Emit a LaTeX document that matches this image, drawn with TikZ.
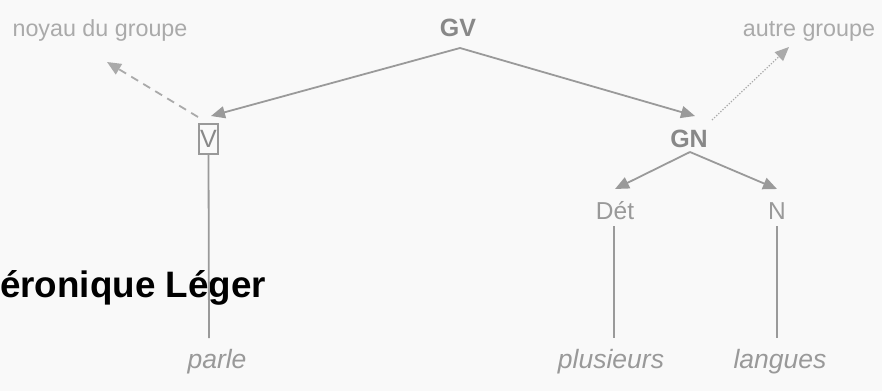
\documentclass[tikz,border=0pt]{standalone}
\usepackage{fontspec}
\setmainfont{Liberation Sans}
\usetikzlibrary{arrows.meta}
\definecolor{bgc}{HTML}{F9F9F9}
\definecolor{labc}{HTML}{AAAAAA}
\definecolor{catc}{HTML}{888888}
\definecolor{softc}{HTML}{999999}
\definecolor{linec}{HTML}{9A9A9A}
\tikzset{
  lbl/.style={text=labc, inner sep=0pt, anchor=base, font=\fontsize{23.3}{28}\selectfont},
  bcat/.style={text=catc, inner sep=0pt, anchor=base, font=\fontsize{25}{30}\selectfont\bfseries},
  scat/.style={text=softc, inner sep=0pt, anchor=base, font=\fontsize{24.5}{29}\selectfont},
  word/.style={text=softc, inner sep=0pt, anchor=base, font=\fontsize{26.5}{31}\selectfont\itshape},
  vbox/.style={draw=softc, line width=1.6pt, text=catc, minimum width=19pt, minimum height=30pt, inner sep=0pt, font=\fontsize{25}{30}\selectfont},
  author/.style={text=black, inner sep=0pt, anchor=base west, font=\fontsize{36.8}{44}\selectfont\bfseries},
  arr/.style={draw=linec, line width=1.8pt, -{Triangle[length=14pt,width=12pt]}},
  dasharr/.style={draw=labc, line width=1.8pt, dash pattern=on 8pt off 6pt, -{Triangle[length=14pt,width=12pt]}},
  dotarr/.style={draw=labc, line width=1.2pt, dash pattern=on 1.3pt off 1.6pt, -{Triangle[length=14pt,width=12pt]}},
  stem/.style={draw=linec, line width=1.8pt}
}
\begin{document}
\begin{tikzpicture}[x=1pt, y=-1pt]
\fill[bgc] (0,0) rectangle (882,391);
\useasboundingbox (0,0) rectangle (882,391);

% labels and categories (placed by baseline)
\node[lbl] (noyau) at (100,36) {noyau du groupe};
\node[bcat] (gv) at (458,36) {GV};
\node[lbl] (autre) at (809,36) {autre groupe};
\node[vbox] (v) at (208.5,139) {V};
\node[bcat] (gn) at (689,147) {GN};
\node[scat] (det) at (615,219) {Dét};
\node[scat] (n) at (777,219) {N};

% words
\node[word] (parle) at (217,368) {parle};
\node[word] (plusieurs) at (611,368) {plusieurs};
\node[word] (langues) at (780,368) {langues};

% author name
\node[author] (auteur) at (0,297) {éronique Léger};

% attachment points of the branches
\coordinate (gvfoot) at (460,48);
\coordinate (vtop) at (211,116);
\coordinate (gntop) at (695,116);
\coordinate (vhead) at (198,117);
\coordinate (noyautip) at (107,62);
\coordinate (gnhead) at (712,120);
\coordinate (autretip) at (789,47);
\coordinate (gnfoot) at (690,152);
\coordinate (dettop) at (615,189);
\coordinate (ntop) at (777,189);
\coordinate (parletop) at (209,338);
\coordinate (dettail) at (614,226);
\coordinate (detbot) at (614,338);
\coordinate (ntail) at (777,226);
\coordinate (nbot) at (777,338);

% branches
\draw[arr] (gvfoot) -- (vtop);
\draw[arr] (gvfoot) -- (gntop);
\draw[dasharr] (vhead) -- (noyautip);
\draw[dotarr] (gnhead) -- (autretip);
\draw[arr] (gnfoot) -- (dettop);
\draw[arr] (gnfoot) -- (ntop);

% stems down to the words
\draw[stem] (v.south) -- (parletop);
\draw[stem] (dettail) -- (detbot);
\draw[stem] (ntail) -- (nbot);
\end{tikzpicture}
\end{document}
